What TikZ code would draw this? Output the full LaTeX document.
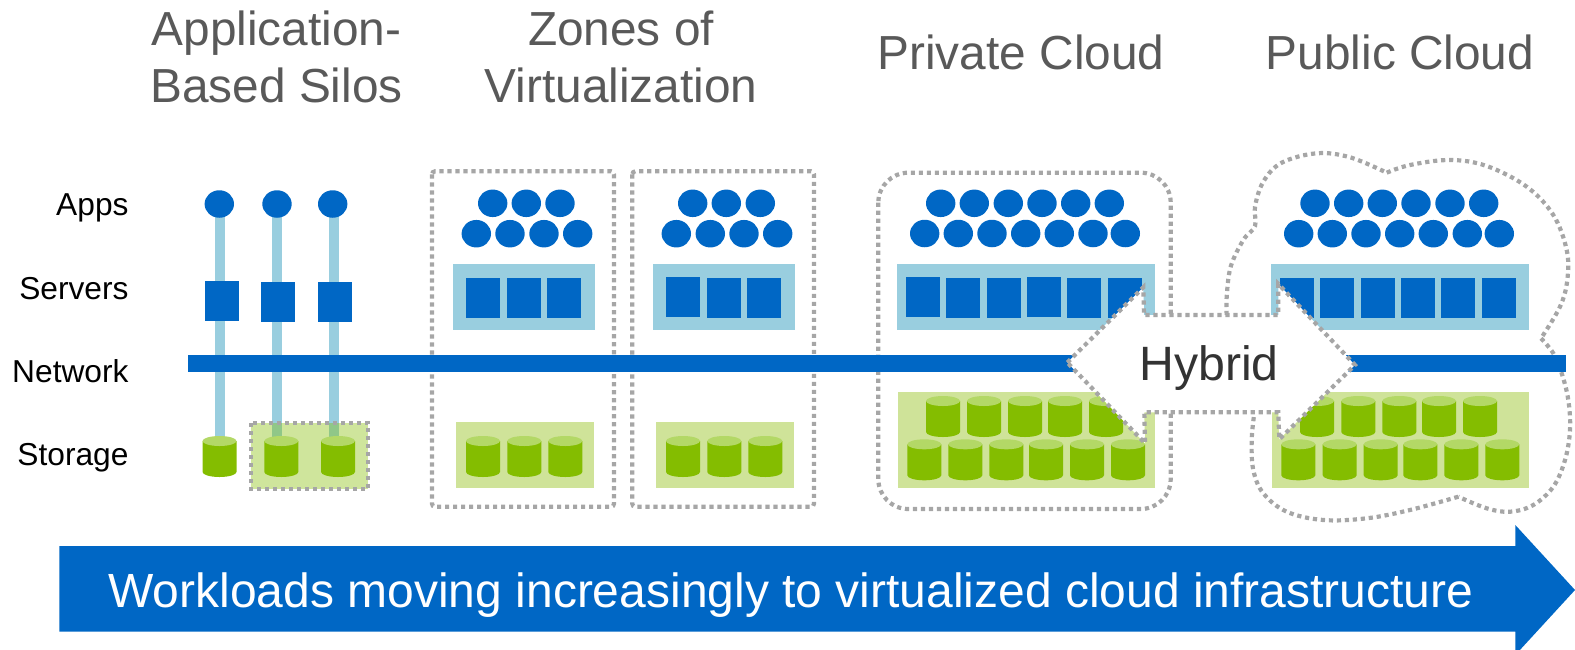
\documentclass[tikz,border=0pt]{standalone}
\usepackage{fontspec}
\setmainfont{Liberation Sans}
\usetikzlibrary{shapes.geometric}
\definecolor{blueM}{HTML}{0067C5}
\definecolor{blueL}{HTML}{99CEDF}
\definecolor{greenM}{HTML}{84BD00}
\definecolor{greenT}{HTML}{B3D866}
\definecolor{greenL}{HTML}{CFE399}
\definecolor{dotgray}{HTML}{A6A6A6}
\definecolor{titlegray}{HTML}{595959}
\definecolor{hybgray}{HTML}{333333}
\tikzset{
  dots/.style={draw=dotgray,line width=4.2pt,dash pattern=on 4.2pt off 3.8pt},
  appdot/.style={ellipse,fill=blueM,minimum width=29.4pt,minimum height=27.5pt,inner sep=0pt,outer sep=0pt},
  srv/.style={rectangle,fill=blueM,minimum width=34pt,minimum height=40pt,inner sep=0pt,outer sep=0pt,anchor=north west},
  vbar/.style={draw=blueL,line width=10pt},
  srvbg/.style={rectangle,fill=blueL,inner sep=0pt,outer sep=0pt,anchor=north west,minimum height=66pt},
  stobg/.style={rectangle,fill=greenL,inner sep=0pt,outer sep=0pt,anchor=north west},
  titletext/.style={text=titlegray,font=\fontsize{47.8}{57}\selectfont,align=center,anchor=base,inner sep=0pt},
  rowlabel/.style={text=black,font=\fontsize{31.7}{36}\selectfont,anchor=base east,inner sep=0pt},
  stor/.pic={
    \fill[greenM] (0,5) -- (34,5) -- (34,36) arc[start angle=0,end angle=180,x radius=17pt,y radius=-5pt] -- cycle;
    \fill[greenT] (17,5) ellipse[x radius=17pt,y radius=5pt];
  }
}
\begin{document}
\begin{tikzpicture}[x=1pt,y=-1pt]
\useasboundingbox (0,0) rectangle (1575,649);
\clip (0,0) rectangle (1575,649);

% titles
\node[titletext] (t1) at (276.5,102) {Application-\\Based Silos};
\node[titletext] (t2) at (621,102) {Zones of\\Virtualization};
\node[titletext] (t3) at (1021,69.5) {Private Cloud};
\node[titletext] (t4) at (1400,69.5) {Public Cloud};

% row labels
\node[rowlabel] (lApps) at (128.7,215.5) {Apps};
\node[rowlabel] (lServers) at (128.7,299.5) {Servers};
\node[rowlabel] (lNetwork) at (128.7,382) {Network};
\node[rowlabel] (lStorage) at (128.7,465) {Storage};

% dotted outlines
\draw[dots,rounded corners=3pt] (432,171.3) rectangle (614,506.7);
\draw[dots,rounded corners=3pt] (632.3,171.3) rectangle (814,506.7);
\draw[dots,rounded corners=30pt] (878.3,172.7) rectangle (1170.7,509);
\draw[dots] plot[smooth,tension=.6] coordinates {(1226.7,315) (1226.7,296.7) (1230.7,266.7) (1243.3,240) (1255,226) (1255,206.7) (1263.3,181.7) (1281.7,162.7) (1316.7,153.3) (1350,157.3) (1386.7,172.7)};
\draw[dots] plot[smooth,tension=.6] coordinates {(1386.7,172.7) (1410,165) (1450,160) (1486.7,166) (1526.7,186.7) (1553.3,215) (1566.7,250) (1567.3,280) (1560,306.7) (1541,338.3)};
\draw[dots] plot[smooth,tension=.6] coordinates {(1541,338.3) (1553.3,353.3) (1561.7,373.3) (1568.3,400) (1570,430) (1565,460) (1553.3,486.7) (1533.3,505) (1510,511.7) (1486.7,508.3) (1458.3,496.7)};
\draw[dots] plot[smooth,tension=.6] coordinates {(1458.3,496.7) (1410,510) (1366.7,518.3) (1323.3,520) (1286.7,511.7) (1263.3,493.3) (1253.3,470) (1251.7,440) (1254.3,413.3)};

% silo stacks
\coordinate (a1c) at (219.3,204);
\coordinate (a2c) at (277,204);
\coordinate (a3c) at (332.7,204);
\coordinate (e1) at (219.8,440);
\coordinate (e2) at (277,440);
\coordinate (e3) at (334,440);
\draw[vbar] (a1c -| e1) -- (e1);
\draw[vbar] (a2c -| e2) -- (e2);
\draw[vbar] (a3c -| e3) -- (e3);
\node[srv] (s1) at (205,281) {};
\node[srv] (s2) at (261,282) {};
\node[srv] (s3) at (318,282) {};
\node[appdot] (a1) at (a1c) {};
\node[appdot] (a2) at (a2c) {};
\node[appdot] (a3) at (a3c) {};
\fill[greenM,fill opacity=.39] (251,423) rectangle (368,489);
\draw[dots] (251,423) rectangle (368,489);
\pic at (202.5,436) {stor};
\pic at (264.3,436) {stor};
\pic at (321,436) {stor};

% zone 1
\foreach \x [count=\i] in {492.7,526.3,560} \node[appdot] (za\i) at (\x,203.3) {};
\foreach \x [count=\i] in {476.3,510,544,577.7} \node[appdot] (zb\i) at (\x,233.7) {};
\node[srvbg,minimum width=142pt] (zsb) at (453,264) {};
\foreach \x [count=\i] in {466,507,547} \node[srv] (zs\i) at (\x,278) {};
\node[stobg,minimum width=138pt,minimum height=66pt] (zgb) at (456,422) {};
\foreach \x in {466,507.3,548.3} \pic at (\x,436) {stor};

% zone 2
\foreach \x [count=\i] in {692.7,726.3,760.3} \node[appdot] (ya\i) at (\x,203.3) {};
\foreach \x [count=\i] in {676.3,710.3,744,777.7} \node[appdot] (yb\i) at (\x,233.7) {};
\node[srvbg,minimum width=142pt] (ysb) at (653,264) {};
\node[srv] (ys1) at (666,277) {};
\node[srv] (ys2) at (707,278) {};
\node[srv] (ys3) at (747,278) {};
\node[stobg,minimum width=138pt,minimum height=66pt] (ygb) at (656,422) {};
\foreach \x in {666,707.3,748.3} \pic at (\x,436) {stor};

% private cloud
\foreach \x [count=\i] in {940.7,974.3,1008.3,1042,1075.7,1109.3} \node[appdot] (pa\i) at (\x,203.3) {};
\foreach \x [count=\i] in {924.7,958.3,992,1025.7,1059.3,1093,1125.3} \node[appdot] (pb\i) at (\x,233.5) {};
\node[srvbg,minimum width=258pt] (psb) at (897,264) {};
\foreach \x/\y [count=\i] in {906/277,946/278,987/278,1027/277,1067/278,1108/278} \node[srv] (ps\i) at (\x,\y) {};
\node[stobg,minimum width=257pt,minimum height=96pt] (pgb) at (898,392) {};
\foreach \x in {926,967,1008,1048,1089} \pic at (\x,396) {stor};
\foreach \x in {907.3,948.3,989.3,1029,1070,1111} \pic at (\x,439.3) {stor};

% public cloud
\foreach \x [count=\i] in {1315,1348.7,1382.3,1416,1450,1483.7} \node[appdot] (qa\i) at (\x,203.3) {};
\foreach \x [count=\i] in {1298.7,1332.3,1366,1399.7,1433.3,1467.3,1499.3} \node[appdot] (qb\i) at (\x,233.7) {};
\node[srvbg,minimum width=258pt] (qsb) at (1271,264) {};
\foreach \x [count=\i] in {1280,1320,1361,1401,1441,1482} \node[srv] (qs\i) at (\x,278) {};
\node[stobg,minimum width=257pt,minimum height=96pt] (qgb) at (1272,392) {};
\foreach \x in {1300,1341.3,1382.3,1422,1463} \pic at (\x,396) {stor};
\foreach \x in {1281.3,1322.7,1363.7,1403.3,1444.3,1485.3} \pic at (\x,439.3) {stor};

% network bar
\fill[blueM] (188,355) rectangle (1566,372);

% hybrid arrow
\draw[dots,fill=white] (1067.3,362.5) -- (1143.3,287.3) -- (1144,315) -- (1278.3,315) -- (1278.3,284) -- (1355,365) -- (1279.3,439.3) -- (1278.3,412.3) -- (1144.3,412.3) -- (1145,443.3) -- cycle;
\node[text=hybgray,font=\fontsize{48.2}{56}\selectfont,anchor=base,inner sep=0pt] (hyb) at (1209,380.5) {Hybrid};

% main arrow
\fill[blueM] (59.3,546) -- (1515.3,546) -- (1515.3,525) -- (1575,590) -- (1515.3,655) -- (1515.3,631.7) -- (59.3,631.7) -- cycle;
\node[text=white,font=\fontsize{48}{56}\selectfont,anchor=base,inner sep=0pt] (flow) at (791,607.5) {Workloads moving increasingly to virtualized cloud infrastructure};
\end{tikzpicture}
\end{document}
